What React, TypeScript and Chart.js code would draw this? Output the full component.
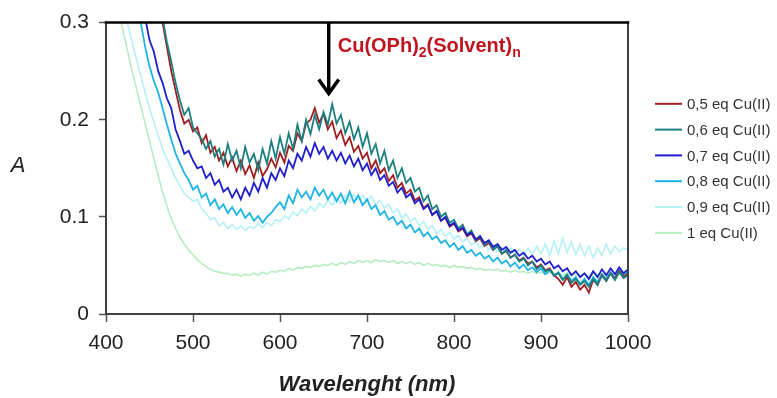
import React, { useEffect, useRef } from "react";
import { Chart, registerables } from "chart.js";

Chart.register(...registerables);

const FONT = "'Liberation Sans', Arial, Helvetica, sans-serif";

const WAVELENGTHS = [
  400, 405, 410, 415, 420, 425, 430, 435, 440, 445,
  450, 455, 460, 465, 470, 475, 480, 485, 490, 495,
  500, 505, 510, 515, 520, 525, 530, 535, 540, 545,
  550, 555, 560, 565, 570, 575, 580, 585, 590, 595,
  600, 605, 610, 615, 620, 625, 630, 635, 640, 645,
  650, 655, 660, 665, 670, 675, 680, 685, 690, 695,
  700, 705, 710, 715, 720, 725, 730, 735, 740, 745,
  750, 755, 760, 765, 770, 775, 780, 785, 790, 795,
  800, 805, 810, 815, 820, 825, 830, 835, 840, 845,
  850, 855, 860, 865, 870, 875, 880, 885, 890, 895,
  900, 905, 910, 915, 920, 925, 930, 935, 940, 945,
  950, 955, 960, 965, 970, 975, 980, 985, 990, 995,
  1000,
];

const EQ_05 = [
  0.70, 0.66, 0.62, 0.59, 0.56, 0.53, 0.50, 0.47, 0.44, 0.40,
  0.35, 0.33, 0.315, 0.30, 0.275, 0.25, 0.23, 0.21, 0.196, 0.20,
  0.188, 0.192, 0.176, 0.184, 0.166, 0.172, 0.158, 0.166, 0.152, 0.161,
  0.147, 0.158, 0.144, 0.153, 0.140, 0.156, 0.142, 0.149, 0.160, 0.151,
  0.166, 0.156, 0.173, 0.168, 0.186, 0.178, 0.196, 0.200, 0.212, 0.197,
  0.206, 0.190, 0.198, 0.181, 0.189, 0.174, 0.182, 0.167, 0.173, 0.160,
  0.166, 0.150, 0.158, 0.145, 0.150, 0.137, 0.143, 0.130, 0.135, 0.124,
  0.128, 0.117, 0.120, 0.109, 0.113, 0.102, 0.106, 0.096, 0.099, 0.090,
  0.093, 0.085, 0.088, 0.080, 0.083, 0.075, 0.078, 0.070, 0.073, 0.066,
  0.070, 0.062, 0.065, 0.058, 0.061, 0.055, 0.058, 0.052, 0.054, 0.048,
  0.051, 0.045, 0.047, 0.040, 0.036, 0.030, 0.038, 0.028, 0.033, 0.025,
  0.030, 0.022, 0.035, 0.030, 0.040, 0.034, 0.042, 0.036, 0.044, 0.038,
  0.042,
];

const EQ_06 = [
  0.72, 0.68, 0.64, 0.61, 0.58, 0.55, 0.52, 0.49, 0.45, 0.41,
  0.36, 0.34, 0.32, 0.305, 0.28, 0.26, 0.238, 0.22, 0.205, 0.212,
  0.192, 0.186, 0.180, 0.170, 0.178, 0.162, 0.170, 0.154, 0.175, 0.158,
  0.168, 0.150, 0.172, 0.156, 0.165, 0.148, 0.170, 0.155, 0.178, 0.160,
  0.182, 0.165, 0.186, 0.170, 0.195, 0.178, 0.200, 0.185, 0.205, 0.190,
  0.208, 0.195, 0.216, 0.196, 0.205, 0.186, 0.198, 0.180, 0.192, 0.172,
  0.186, 0.165, 0.175, 0.155, 0.168, 0.148, 0.158, 0.140, 0.150, 0.135,
  0.140, 0.126, 0.130, 0.116, 0.122, 0.108, 0.112, 0.100, 0.104, 0.094,
  0.097, 0.088, 0.092, 0.082, 0.086, 0.076, 0.080, 0.071, 0.075, 0.066,
  0.070, 0.062, 0.066, 0.058, 0.061, 0.054, 0.057, 0.050, 0.054, 0.046,
  0.050, 0.044, 0.046, 0.040, 0.042, 0.035, 0.040, 0.032, 0.036, 0.030,
  0.034, 0.028, 0.036, 0.030, 0.040, 0.034, 0.042, 0.035, 0.043, 0.037,
  0.040,
];

const EQ_07 = [
  0.60, 0.56, 0.52, 0.49, 0.45, 0.42, 0.39, 0.36, 0.33, 0.305,
  0.282, 0.27, 0.25, 0.238, 0.222, 0.212, 0.19, 0.178, 0.165, 0.168,
  0.158, 0.150, 0.152, 0.140, 0.145, 0.133, 0.138, 0.126, 0.130, 0.120,
  0.128, 0.118, 0.130, 0.122, 0.135, 0.126, 0.140, 0.130, 0.145, 0.138,
  0.150, 0.142, 0.158, 0.150, 0.165, 0.158, 0.172, 0.162, 0.176, 0.165,
  0.172, 0.160, 0.168, 0.158, 0.166, 0.155, 0.163, 0.152, 0.160, 0.148,
  0.155, 0.143, 0.150, 0.138, 0.143, 0.132, 0.136, 0.125, 0.130, 0.120,
  0.124, 0.114, 0.118, 0.108, 0.112, 0.102, 0.106, 0.096, 0.100, 0.091,
  0.094, 0.086, 0.089, 0.081, 0.084, 0.077, 0.080, 0.073, 0.076, 0.069,
  0.072, 0.066, 0.069, 0.063, 0.066, 0.060, 0.063, 0.057, 0.060, 0.054,
  0.057, 0.051, 0.054, 0.047, 0.050, 0.044, 0.047, 0.040, 0.044, 0.038,
  0.042, 0.036, 0.044, 0.038, 0.046, 0.040, 0.047, 0.041, 0.048, 0.042,
  0.046,
];

const EQ_08 = [
  0.55, 0.52, 0.49, 0.46, 0.43, 0.40, 0.37, 0.335, 0.30, 0.275,
  0.255, 0.24, 0.228, 0.212, 0.195, 0.18, 0.165, 0.155, 0.145, 0.138,
  0.128, 0.132, 0.120, 0.124, 0.112, 0.118, 0.108, 0.113, 0.104, 0.110,
  0.102, 0.108, 0.099, 0.104, 0.096, 0.101, 0.094, 0.100, 0.104, 0.110,
  0.115, 0.108, 0.122, 0.114, 0.128, 0.120, 0.126, 0.118, 0.130, 0.122,
  0.128, 0.118, 0.125, 0.116, 0.124, 0.114, 0.126, 0.115, 0.122, 0.112,
  0.118, 0.108, 0.112, 0.102, 0.106, 0.097, 0.100, 0.092, 0.096, 0.088,
  0.092, 0.084, 0.088, 0.080, 0.084, 0.077, 0.080, 0.073, 0.076, 0.069,
  0.073, 0.066, 0.070, 0.063, 0.066, 0.060, 0.063, 0.057, 0.060, 0.054,
  0.058, 0.052, 0.055, 0.049, 0.053, 0.047, 0.051, 0.045, 0.048, 0.043,
  0.047, 0.041, 0.045, 0.039, 0.043, 0.036, 0.041, 0.034, 0.038, 0.031,
  0.036, 0.030, 0.038, 0.033, 0.041, 0.036, 0.043, 0.037, 0.045, 0.040,
  0.044,
];

const EQ_09 = [
  0.42, 0.39, 0.36, 0.335, 0.315, 0.298, 0.28, 0.262, 0.245, 0.228,
  0.212, 0.198, 0.184, 0.17, 0.16, 0.15, 0.14, 0.132, 0.124, 0.12,
  0.116, 0.118, 0.108, 0.104, 0.097, 0.099, 0.091, 0.094, 0.088, 0.092,
  0.087, 0.091, 0.086, 0.090, 0.088, 0.093, 0.089, 0.094, 0.091, 0.097,
  0.095, 0.101, 0.098, 0.105, 0.101, 0.108, 0.104, 0.111, 0.106, 0.114,
  0.110, 0.117, 0.112, 0.120, 0.114, 0.122, 0.116, 0.123, 0.117, 0.122,
  0.116, 0.121, 0.113, 0.117, 0.109, 0.113, 0.104, 0.108, 0.099, 0.103,
  0.095, 0.099, 0.091, 0.095, 0.087, 0.091, 0.083, 0.087, 0.080, 0.084,
  0.077, 0.081, 0.074, 0.078, 0.071, 0.075, 0.068, 0.073, 0.066, 0.071,
  0.064, 0.069, 0.062, 0.068, 0.061, 0.067, 0.060, 0.068, 0.061, 0.070,
  0.062, 0.072, 0.060, 0.075, 0.062, 0.078, 0.063, 0.074, 0.061, 0.072,
  0.060, 0.070, 0.058, 0.068, 0.060, 0.072, 0.062, 0.070, 0.064, 0.068,
  0.066,
];

const EQ_10 = [
  0.40, 0.37, 0.34, 0.31, 0.29, 0.27, 0.25, 0.232, 0.214, 0.196,
  0.178, 0.16, 0.142, 0.126, 0.111, 0.098, 0.088, 0.079, 0.072, 0.066,
  0.061, 0.056, 0.052, 0.049, 0.046, 0.044, 0.043, 0.042, 0.042, 0.040,
  0.041, 0.039, 0.041, 0.040, 0.042, 0.040, 0.043, 0.041, 0.044, 0.043,
  0.045, 0.044, 0.047, 0.045, 0.048, 0.047, 0.049, 0.048, 0.050, 0.049,
  0.051, 0.050, 0.052, 0.050, 0.053, 0.051, 0.054, 0.052, 0.055, 0.053,
  0.055, 0.053, 0.056, 0.054, 0.055, 0.053, 0.055, 0.052, 0.054, 0.052,
  0.054, 0.051, 0.053, 0.050, 0.052, 0.050, 0.051, 0.049, 0.050, 0.048,
  0.050, 0.048, 0.049, 0.047, 0.048, 0.046, 0.047, 0.045, 0.046, 0.045,
  0.046, 0.044, 0.045, 0.043, 0.045, 0.043, 0.044, 0.042, 0.044, 0.042,
  0.043, 0.041, 0.043, 0.041, 0.042, 0.040, 0.042, 0.040, 0.041, 0.040,
  0.041, 0.039, 0.041, 0.040, 0.042, 0.040, 0.042, 0.041, 0.043, 0.041,
  0.042,
];

const SERIES_LABELS = [
  "0,5 eq Cu(II)",
  "0,6 eq Cu(II)",
  "0,7 eq Cu(II)",
  "0,8 eq Cu(II)",
  "0,9 eq Cu(II)",
  "1 eq Cu(II)",
];
const SERIES_VALUES = [EQ_05, EQ_06, EQ_07, EQ_08, EQ_09, EQ_10];
const SERIES_COLORS = [
  "rgb(160,30,32)",
  "rgb(28,128,128)",
  "rgb(30,30,205)",
  "rgb(30,180,230)",
  "rgb(180,240,246)",
  "rgb(182,236,192)",
];
// drawing order (lower = on top)
const SERIES_ORDER = [3, 2, 1, 4, 5, 6];

const X_TICKS = [400, 500, 600, 700, 800, 900, 1000];
const Y_TICKS = [0, 0.1, 0.2, 0.3];
const X_TITLE = "Wavelenght (nm)";
const Y_TITLE = "A";
const ANNOTATION_NM = 656;
const ANNOTATION_TIP_A = 0.225;

const decorPlugin = {
  id: "decor",
  afterDatasetsDraw(chart: any) {
    const { ctx, chartArea, scales } = chart;
    const { left, right, top, bottom } = chartArea;
    ctx.save();
    // frame
    ctx.lineCap = "square";
    ctx.strokeStyle = "#404040";
    ctx.lineWidth = 2;
    ctx.beginPath();
    ctx.moveTo(left, top);
    ctx.lineTo(left, bottom);
    ctx.lineTo(right, bottom);
    ctx.lineTo(right, top);
    ctx.stroke();
    ctx.strokeStyle = "#000";
    ctx.lineWidth = 2.5;
    ctx.beginPath();
    ctx.moveTo(left, top);
    ctx.lineTo(right, top);
    ctx.stroke();

    // arrow annotation
    const ax = scales.x.getPixelForValue(ANNOTATION_NM);
    const tipY = scales.y.getPixelForValue(ANNOTATION_TIP_A);
    ctx.strokeStyle = "#000";
    ctx.lineWidth = 3.5;
    ctx.lineCap = "butt";
    ctx.beginPath();
    ctx.moveTo(ax, top);
    ctx.lineTo(ax, tipY - 2);
    ctx.stroke();
    ctx.lineJoin = "miter";
    ctx.beginPath();
    ctx.moveTo(ax - 10, tipY - 16);
    ctx.lineTo(ax, tipY - 2);
    ctx.lineTo(ax + 10, tipY - 16);
    ctx.stroke();

    // label
    ctx.fillStyle = "rgb(192,20,30)";
    ctx.textBaseline = "alphabetic";
    ctx.textAlign = "left";
    let tx = ax + 9;
    const ty = top + 29;
    const parts: [string, boolean][] = [
      ["Cu(OPh)", false],
      ["2", true],
      ["(Solvent)", false],
      ["n", true],
    ];
    for (const [t, sub] of parts) {
      ctx.font = sub ? `bold 14px ${FONT}` : `bold 20px ${FONT}`;
      ctx.fillText(t, tx, sub ? ty + 5 : ty);
      tx += ctx.measureText(t).width;
    }

    // y title
    ctx.fillStyle = "#222";
    ctx.font = `italic 22px ${FONT}`;
    ctx.textAlign = "center";
    ctx.textBaseline = "middle";
    ctx.fillText(Y_TITLE, 18, (top + bottom) / 2 - 2);

    // legend
    const spacing = 25.8;
    const n = SERIES_LABELS.length;
    const cy = (top + bottom) / 2;
    const lx = right + 27;
    ctx.font = `15px ${FONT}`;
    ctx.textAlign = "left";
    ctx.textBaseline = "middle";
    SERIES_LABELS.forEach((label, i) => {
      const y = cy + (i - (n - 1) / 2) * spacing;
      ctx.strokeStyle = SERIES_COLORS[i];
      ctx.lineWidth = 2;
      ctx.beginPath();
      ctx.moveTo(lx, y);
      ctx.lineTo(lx + 27, y);
      ctx.stroke();
      ctx.fillStyle = "#333";
      ctx.fillText(label, lx + 32, y + 1);
    });
    ctx.restore();
  },
};

export default function App() {
  const canvasRef = useRef<HTMLCanvasElement | null>(null);

  useEffect(() => {
    const canvas = canvasRef.current;
    if (!canvas) return;
    const datasets = SERIES_VALUES.map((vals, i) => ({
      label: SERIES_LABELS[i],
      data: WAVELENGTHS.map((x, j) => ({ x, y: vals[j] })),
      borderColor: SERIES_COLORS[i],
      backgroundColor: SERIES_COLORS[i],
      borderWidth: i >= 4 ? 1.6 : 1.8,
      pointRadius: 0,
      tension: 0,
      fill: false,
      order: SERIES_ORDER[i],
    }));
    const chart = new Chart(canvas, {
      type: "line",
      data: { datasets },
      plugins: [decorPlugin],
      options: {
        animation: false,
        responsive: false,
        maintainAspectRatio: false,
        layout: { padding: { left: 0, top: 22, right: 149, bottom: 0 } },
        plugins: { legend: { display: false }, tooltip: { enabled: false } },
        elements: { point: { radius: 0 }, line: { tension: 0 } },
        scales: {
          x: {
            type: "linear",
            min: 400,
            max: 1000,
            afterBuildTicks: (s: any) => {
              s.ticks = X_TICKS.map((v) => ({ value: v }));
            },
            afterFit: (s: any) => {
              s.height = 84;
            },
            border: { display: false },
            grid: {
              drawOnChartArea: false,
              drawTicks: true,
              tickLength: 8,
              tickColor: "#555",
              tickWidth: 1.5,
              color: "#555",
            },
            ticks: {
              font: { family: FONT, size: 21 },
              color: "#222",
              padding: 9,
              maxRotation: 0,
              autoSkip: false,
              callback: (v: any) => String(v),
            },
            title: {
              display: true,
              text: X_TITLE,
              color: "#222",
              font: { family: FONT, size: 22, style: "italic", weight: "bold" },
              padding: { top: 0, bottom: 0 },
            },
          },
          y: {
            type: "linear",
            min: 0,
            max: 0.3,
            afterBuildTicks: (s: any) => {
              s.ticks = Y_TICKS.map((v) => ({ value: v }));
            },
            afterFit: (s: any) => {
              s.width = 106;
            },
            border: { display: false },
            grid: {
              drawOnChartArea: false,
              drawTicks: true,
              tickLength: 7,
              tickColor: "#555",
              tickWidth: 1.5,
              color: "#555",
            },
            ticks: {
              font: { family: FONT, size: 21 },
              color: "#222",
              padding: 10,
              callback: (v: any) => (Number(v) === 0 ? "0" : Number(v).toFixed(1)),
            },
            title: { display: false },
          },
        },
      },
    } as any);
    return () => chart.destroy();
  }, []);

  return (
    <div style={{ position: "absolute", left: 0, top: 0, width: 777, height: 398, background: "#fff" }}>
      <canvas ref={canvasRef} width={777} height={398} style={{ width: 777, height: 398, display: "block" }} />
    </div>
  );
}
